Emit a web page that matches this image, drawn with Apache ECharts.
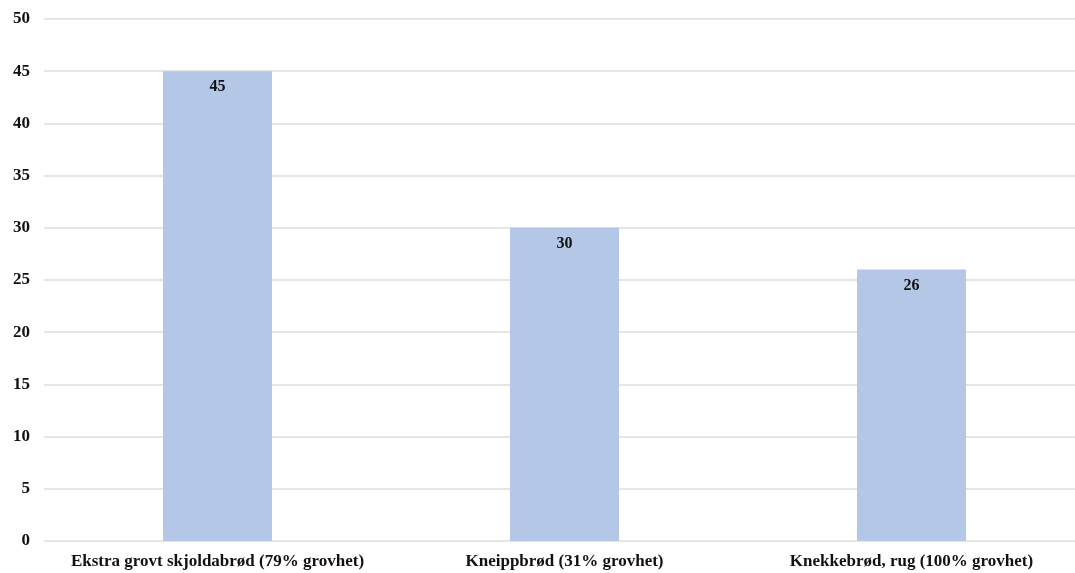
<!DOCTYPE html>
<html>
<head>
<meta charset="utf-8">
<script src="https://cdn.jsdelivr.net/npm/echarts@6/dist/echarts.min.js"></script>
<style>
  html, body { margin: 0; padding: 0; background: #ffffff; overflow: hidden; }
  /* canvas is a little wider than the window so the plot runs off the right edge */
  #chart { width: 1090px; height: 573px; }
</style>
</head>
<body>
<div id="chart"></div>
<script>
// Brødtyper og verdier
const categories = [
  'Ekstra grovt skjoldabrød (79% grovhet)',
  'Kneippbrød (31% grovhet)',
  'Knekkebrød, rug (100% grovhet)'
];
const values = [45, 30, 26];
const yTicks = { min: 0, max: 50, interval: 5 };

const serif = '"Liberation Serif", "DejaVu Serif", serif';
const chart = echarts.init(document.getElementById('chart'));

chart.setOption({
  animation: false,
  grid: { left: 44, width: 1041, top: 19, height: 522, containLabel: false },
  xAxis: {
    type: 'category',
    data: categories,
    axisLine: { show: false },
    axisTick: { show: false },
    axisLabel: {
      interval: 0,
      margin: 12,
      fontFamily: serif,
      fontWeight: 'bold',
      fontSize: 17,
      color: '#111111'
    }
  },
  yAxis: {
    type: 'value',
    min: yTicks.min,
    max: yTicks.max,
    interval: yTicks.interval,
    axisLine: { show: false },
    axisTick: { show: false },
    splitLine: { lineStyle: { color: '#dcdcdc', width: 1.5 } },
    axisLabel: {
      margin: 14,
      fontFamily: serif,
      fontWeight: 'bold',
      fontSize: 17,
      color: '#111111'
    }
  },
  series: [{
    type: 'bar',
    data: values,
    barWidth: 109,
    itemStyle: { color: '#b4c7e7' },
    label: {
      show: true,
      position: 'insideTop',
      distance: 8,
      fontFamily: serif,
      fontWeight: 'bold',
      fontSize: 16,
      color: '#111111'
    }
  }]
});
</script>
</body>
</html>
